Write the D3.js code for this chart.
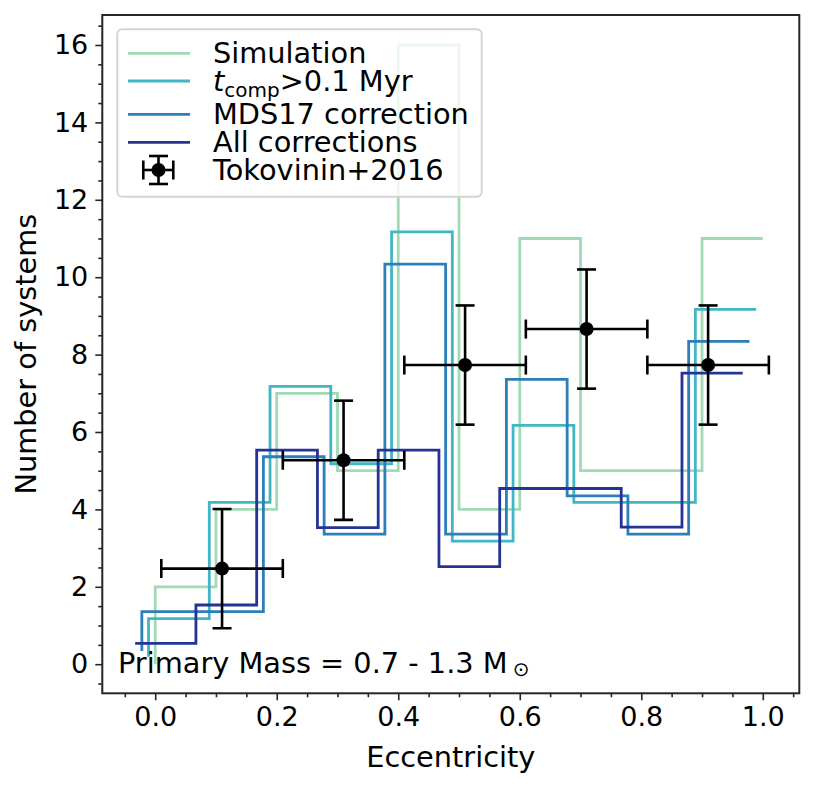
<!DOCTYPE html>
<html>
<head>
<meta charset="utf-8">
<script src="https://cdn.jsdelivr.net/npm/d3@7"></script>
<style>
  body { margin: 0; background: #fff; }
  text { font-family: "DejaVu Sans", sans-serif; fill: #000; }
</style>
</head>
<body>
<div id="chart"></div>
<script>
// bin edges in eccentricity
var edges = [0.0, 0.1, 0.2, 0.3, 0.4, 0.5, 0.6, 0.7, 0.8, 0.9, 1.0];

// step values (first value is the start of the line at the first edge)
var simulation  = [0.0, 2, 4, 7, 5, 16, 4, 11, 5, 5, 11];
var tcomp       = [0.19, 1.18, 4.18, 7.18, 5.18, 11.17, 3.18, 6.17, 4.18, 4.18, 9.17];
var mds17       = [0.34, 1.36, 1.36, 5.36, 3.36, 10.34, 3.36, 7.36, 4.35, 3.36, 8.34];
var allCorr     = [0.54, 0.54, 1.53, 5.53, 3.53, 5.53, 2.52, 4.54, 4.54, 3.54, 7.52];

var seriesNames  = ["Simulation", "tcomp", "MDS17 correction", "All corrections"];
var seriesShift  = [0.0, -0.011, -0.022, -0.033];
var seriesColors = ["#a1dab4", "#41b6c4", "#2c7fb8", "#253494"];

// Tokovinin+2016 observed points
var obsX    = [0.11, 0.31, 0.51, 0.71, 0.91];
var obsY    = [2.47, 5.27, 7.73, 8.66, 7.73];
var obsXerr = [0.1, 0.1, 0.1, 0.1, 0.1];
var obsYerr = [1.54, 1.54, 1.54, 1.54, 1.54];

var xTicks = [0.0, 0.2, 0.4, 0.6, 0.8, 1.0];
var yTicks = [0, 2, 4, 6, 8, 10, 12, 14, 16];

var W = 815, H = 788;
var mLeft = 102.3, mRight = 799.3, mTop = 15, mBottom = 693.3;
var fs = 28.8, tickFs = 27;

var svg = d3.select("#chart").append("svg")
    .attr("width", W).attr("height", H);

var x = d3.scaleLinear().domain([-0.0871, 1.0601]).range([mLeft, mRight]);
var y = d3.scaleLinear().domain([-0.752, 16.775]).range([mBottom, mTop]);

svg.append("clipPath").attr("id", "clip")
    .append("rect").attr("x", mLeft).attr("y", mTop)
    .attr("width", mRight - mLeft).attr("height", mBottom - mTop);

var plot = svg.append("g").attr("clip-path", "url(#clip)");

// step lines
var allSeries = [simulation, tcomp, mds17, allCorr];
var line = d3.line()
    .x(function(d) { return x(d[0]); })
    .y(function(d) { return y(d[1]); })
    .curve(d3.curveStepBefore);

allSeries.forEach(function(vals, i) {
    var pts = edges.map(function(e, j) { return [e + seriesShift[i], vals[j]]; });
    plot.append("path")
        .attr("d", line(pts))
        .attr("fill", "none")
        .attr("stroke", seriesColors[i])
        .attr("stroke-width", 2.8);
});

// error bars
var cap = 9.5, ew = 2.6;
function errorbar(g, cx, cy, dx1, dx2, dy1, dy2, r) {
    g.append("line").attr("x1", dx1).attr("x2", dx2).attr("y1", cy).attr("y2", cy)
        .attr("stroke", "#000").attr("stroke-width", ew);
    g.append("line").attr("x1", cx).attr("x2", cx).attr("y1", dy1).attr("y2", dy2)
        .attr("stroke", "#000").attr("stroke-width", ew);
    [dx1, dx2].forEach(function(xx) {
        g.append("line").attr("x1", xx).attr("x2", xx).attr("y1", cy - cap).attr("y2", cy + cap)
            .attr("stroke", "#000").attr("stroke-width", ew);
    });
    [dy1, dy2].forEach(function(yy) {
        g.append("line").attr("x1", cx - cap).attr("x2", cx + cap).attr("y1", yy).attr("y2", yy)
            .attr("stroke", "#000").attr("stroke-width", ew);
    });
    g.append("circle").attr("cx", cx).attr("cy", cy).attr("r", r).attr("fill", "#000");
}

var eb = plot.append("g");
obsX.forEach(function(ox, i) {
    errorbar(eb, x(ox), y(obsY[i]),
        x(ox - obsXerr[i]), x(ox + obsXerr[i]),
        y(obsY[i] + obsYerr[i]), y(obsY[i] - obsYerr[i]), 7);
});

// axes
var xAxis = d3.axisBottom(x).tickValues(xTicks).tickFormat(d3.format(".1f"))
    .tickSize(7).tickPadding(7);
var yAxis = d3.axisLeft(y).tickValues(yTicks).tickFormat(d3.format("d"))
    .tickSize(7).tickPadding(7);

svg.append("g").attr("transform", "translate(0," + mBottom + ")").call(xAxis);
svg.append("g").attr("transform", "translate(" + mLeft + ",0)").call(yAxis);

var xMinor = d3.range(-1, 22).map(function(k) { return k * 0.05; })
    .filter(function(v, k) { return (k - 1) % 4 !== 0; });
var yMinor = d3.range(-1, 34).map(function(k) { return k * 0.5; })
    .filter(function(v, k) { return (k - 1) % 4 !== 0; });

svg.append("g").attr("transform", "translate(0," + mBottom + ")")
    .call(d3.axisBottom(x).tickValues(xMinor).tickSize(4).tickFormat(""));
svg.append("g").attr("transform", "translate(" + mLeft + ",0)")
    .call(d3.axisLeft(y).tickValues(yMinor).tickSize(4).tickFormat(""));

svg.selectAll(".domain").remove();
svg.selectAll(".tick line").attr("stroke", "#262626").attr("stroke-width", 1.6);
svg.selectAll(".tick text").style("font-size", tickFs + "px").style("font-family", "DejaVu Sans").attr("fill", "#000");

svg.append("rect").attr("x", mLeft).attr("y", mTop)
    .attr("width", mRight - mLeft).attr("height", mBottom - mTop)
    .attr("fill", "none").attr("stroke", "#262626").attr("stroke-width", 2);

// axis labels
svg.append("text").attr("x", (mLeft + mRight) / 2).attr("y", 767)
    .attr("text-anchor", "middle").style("font-size", fs + "px").text("Eccentricity");
svg.append("text").attr("transform", "translate(36," + ((mTop + mBottom) / 2) + ") rotate(-90)")
    .attr("text-anchor", "middle").style("font-size", fs + "px").text("Number of systems");

// annotation
var ann = svg.append("text").attr("x", 118).attr("y", 673).style("font-size", fs + "px");
ann.append("tspan").text("Primary Mass = 0.7 - 1.3 M");
ann.append("tspan").attr("dx", 5).attr("dy", 3).style("font-size", "20px").text("\u2299");

// legend
var lg = svg.append("g");
lg.append("rect").attr("x", 117.3).attr("y", 29.3).attr("width", 364.4).attr("height", 167.4)
    .attr("rx", 5).attr("fill", "#fff").attr("fill-opacity", 0.8)
    .attr("stroke", "#d4d4d4").attr("stroke-width", 2);

var rowY = [53.3, 81, 114.3, 142.3, 170];
seriesNames.forEach(function(n, i) {
    lg.append("line").attr("x1", 128).attr("x2", 190).attr("y1", rowY[i]).attr("y2", rowY[i])
        .attr("stroke", seriesColors[i]).attr("stroke-width", 2.8);
});
var tx = 213;
lg.append("text").attr("x", tx).attr("y", rowY[0] + 9.5).style("font-size", fs + "px").text("Simulation");
var t2 = lg.append("text").attr("x", tx).attr("y", rowY[1] + 9.5).style("font-size", fs + "px");
t2.append("tspan").style("font-style", "italic").text("t");
t2.append("tspan").attr("dy", 6).style("font-size", "20px").text("comp");
t2.append("tspan").attr("dy", -6).text(">0.1 Myr");
lg.append("text").attr("x", tx).attr("y", rowY[2] + 9.5).style("font-size", fs + "px").text("MDS17 correction");
lg.append("text").attr("x", tx).attr("y", rowY[3] + 9.5).style("font-size", fs + "px").text("All corrections");
lg.append("text").attr("x", tx).attr("y", rowY[4] + 9.5).style("font-size", fs + "px").text("Tokovinin+2016");
errorbar(lg, 158.5, rowY[4], 143.3, 173.3, 156, 184, 7);
</script>
</body>
</html>
